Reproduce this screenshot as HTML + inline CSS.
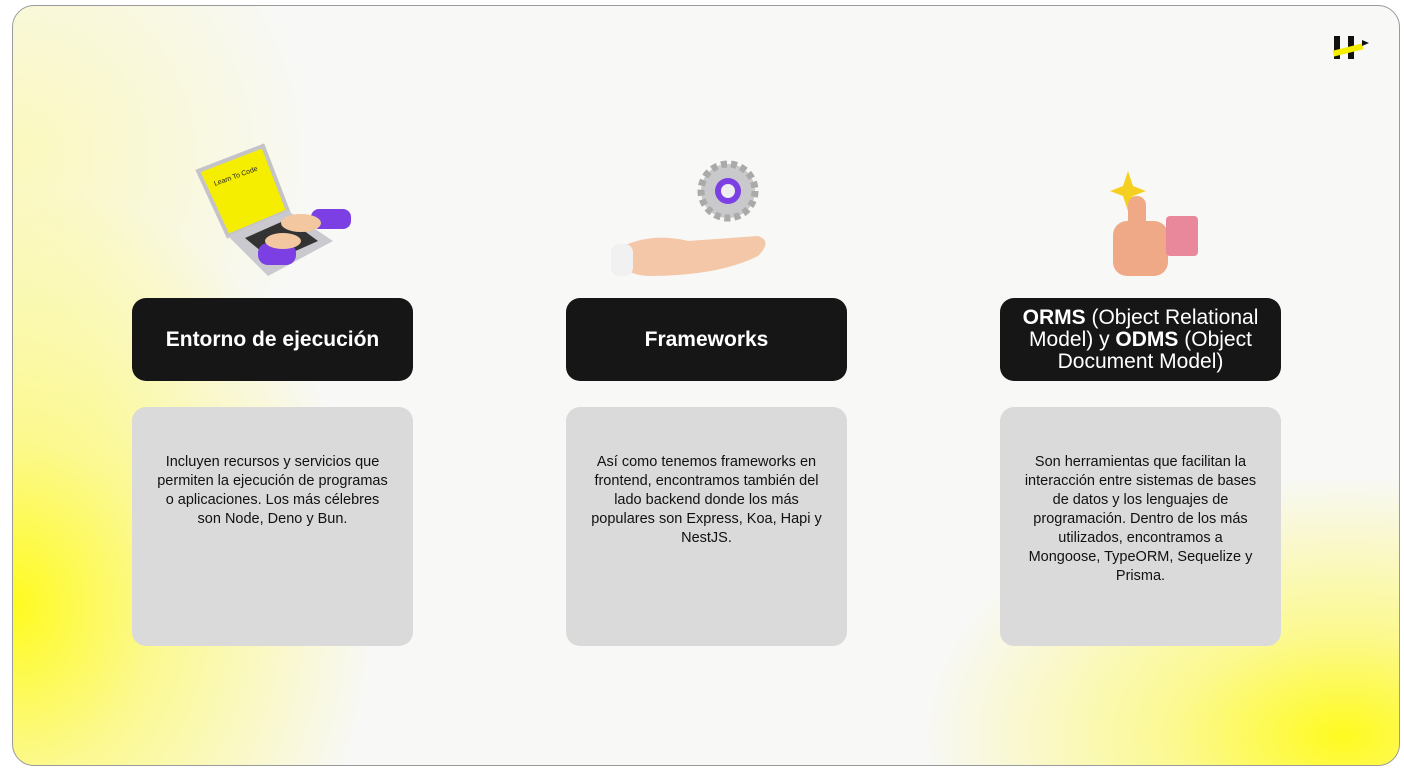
<!DOCTYPE html>
<html><head><meta charset="utf-8"><style>
html,body{margin:0;padding:0;background:#fff;}
body{width:1404px;height:778px;position:relative;overflow:hidden;font-family:"Liberation Sans",sans-serif;}
.card{position:absolute;left:12px;top:5px;width:1386px;height:759px;border:1px solid #9a9a9a;border-radius:22px;overflow:hidden;
background:
radial-gradient(ellipse 360px 420px at 0px 600px, rgba(255,250,20,0.95), rgba(255,250,60,0.55) 40%, rgba(250,250,245,0) 100%),
radial-gradient(ellipse 300px 300px at 0px 150px, rgba(255,250,80,0.35), rgba(250,250,245,0) 100%),
radial-gradient(ellipse 420px 260px at 1330px 730px, rgba(255,250,20,0.95), rgba(255,250,60,0.55) 40%, rgba(250,250,245,0) 100%),
#f8f8f6;}
.title{position:absolute;top:292px;width:281px;height:83px;background:#161616;border-radius:14px;color:#fff;display:flex;align-items:center;justify-content:center;text-align:center;font-size:21px;line-height:22px;}
.body{position:absolute;top:401px;width:281px;height:239px;background:#dadada;border-radius:14px;color:#111;font-size:14.5px;line-height:19px;text-align:center;box-sizing:border-box;padding:46px 24px 0;}
</style></head><body>
<div class="card">
 <div style="position:absolute;left:1321px;top:30px;width:40px;height:26px">
  <div style="position:absolute;left:0;top:0;width:6px;height:23px;background:#111"></div>
  <div style="position:absolute;left:14px;top:0;width:6px;height:23px;background:#111"></div>
  <div style="position:absolute;left:-1px;top:11px;width:30px;height:6px;background:#f5ee00;transform:rotate(-14deg)"></div>
  <div style="position:absolute;left:28px;top:4px;width:0;height:0;border-left:7px solid #111;border-top:3px solid transparent;border-bottom:3px solid transparent"></div>
 </div>

 <svg style="position:absolute;left:180px;top:135px" width="170" height="145">
  <polygon points="5,30 70,5 95,70 35,95" fill="#f5ee00" stroke="#c4c4c8" stroke-width="4"/>
  <polygon points="35,95 95,70 140,100 75,135" fill="#c9c9cf"/>
  <polygon points="52,97 95,78 125,100 80,120" fill="#333"/>
  <rect x="118" y="68" width="40" height="20" rx="8" fill="#7b3fe4"/>
  <rect x="65" y="102" width="38" height="22" rx="10" fill="#7b3fe4"/>
  <ellipse cx="108" cy="82" rx="20" ry="9" fill="#f3c7a0"/>
  <ellipse cx="90" cy="100" rx="18" ry="8" fill="#f3c7a0"/>
  <text x="22" y="45" font-size="7" fill="#222" transform="rotate(-20 22 45)">Learn To Code</text>
 </svg>

 <svg style="position:absolute;left:595px;top:150px" width="170" height="125">
  <circle cx="120" cy="35" r="27" fill="#c9c9cc" stroke="#aaa" stroke-dasharray="6 4" stroke-width="7"/>
  <circle cx="120" cy="35" r="13" fill="#7b3fe4"/>
  <circle cx="120" cy="35" r="7" fill="#eee"/>
  <path d="M5,95 Q40,75 80,85 L150,80 Q165,85 150,100 Q110,120 40,120 Q10,118 5,95Z" fill="#f3c7a8"/>
  <rect x="3" y="88" width="22" height="32" rx="8" fill="#f1f1f1"/>
 </svg>

 <svg style="position:absolute;left:1085px;top:155px" width="110" height="120">
  <path d="M30,10 L35,25 L48,30 L35,35 L30,50 L25,35 L12,30 L25,25Z" fill="#f5d020"/>
  <rect x="15" y="60" width="55" height="55" rx="14" fill="#f0a987"/>
  <rect x="30" y="35" width="18" height="35" rx="9" fill="#f0a987"/>
  <rect x="68" y="55" width="32" height="40" rx="4" fill="#e9889a"/>
 </svg>

 <div class="title" style="left:119px;font-weight:bold">Entorno de ejecución</div>
 <div class="title" style="left:553px;font-weight:bold">Frameworks</div>
 <div class="title" style="left:987px;padding:0 14px;box-sizing:border-box"><div><b>ORMS</b> (Object Relational Model) y <b>ODMS</b> (Object Document Model)</div></div>

 <div class="body" style="left:119px">Incluyen recursos y servicios que permiten la ejecución de programas o aplicaciones. Los más célebres son Node, Deno y Bun.</div>
 <div class="body" style="left:553px">Así como tenemos frameworks en frontend, encontramos también del lado backend donde los más populares son Express, Koa, Hapi y NestJS.</div>
 <div class="body" style="left:987px">Son herramientas que facilitan la interacción entre sistemas de bases de datos y los lenguajes de programación. Dentro de los más utilizados, encontramos a Mongoose, TypeORM, Sequelize y Prisma.</div>
</div>
</body></html>
